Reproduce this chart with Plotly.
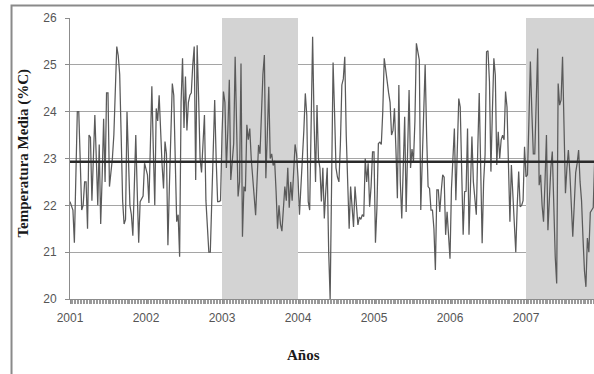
import plotly.graph_objects as go

# Weekly mean temperature (52 values per year), starting 2001
temp_2001 = [22.08, 22.0, 21.9, 21.2, 22.5, 24.0, 24.0, 23.0, 21.9, 22.0, 22.5, 22.5, 21.5,
             23.5, 23.45, 22.1, 23.0, 23.93, 23.0, 22.0, 23.3, 21.6, 22.6, 23.85, 22.5, 24.4,
             24.4, 22.4, 22.7, 23.0, 23.5, 24.5, 25.39, 25.2, 24.8, 23.5, 22.1, 21.6, 21.7,
             24.0, 23.0, 22.0, 21.8, 21.35, 22.4, 23.5, 22.3, 21.2, 22.08, 22.15, 22.2, 22.9]
temp_2002 = [22.8, 22.65, 22.05, 23.3, 24.54, 23.2, 22.0, 24.07, 23.8, 24.35, 23.5, 22.86, 22.36,
             23.36, 23.1, 21.15, 22.4, 23.5, 24.6, 24.35, 22.9, 21.65, 21.8, 20.9, 24.2, 25.14,
             23.65, 24.75, 23.6, 24.2, 24.35, 24.4, 25.0, 25.39, 22.54, 25.42, 24.3, 23.0, 22.7,
             23.3, 23.93, 22.1, 21.6, 21.0, 21.0, 22.1, 23.3, 24.25, 23.0, 22.08, 22.08, 22.1]
temp_2003 = [23.5, 24.43, 24.2, 22.8, 23.6, 24.68, 22.54, 23.0, 23.32, 25.17, 23.8, 22.19, 22.5,
             25.03, 21.33, 22.4, 22.3, 23.72, 23.4, 23.64, 23.0, 22.5, 22.2, 21.79, 22.6, 23.29,
             23.1, 24.0, 24.8, 25.21, 22.58, 23.5, 24.53, 23.0, 23.1, 22.85, 22.95, 22.3, 21.5,
             22.0, 21.6, 21.45, 22.0, 22.4, 22.1, 22.8, 21.95, 22.5, 22.1, 22.6, 23.3, 23.1]
temp_2004 = [22.6, 21.8, 22.3, 23.0, 23.6, 24.39, 23.93, 22.08, 21.9, 23.5, 25.6, 23.8, 22.5,
             24.14, 23.0, 22.8, 22.08, 22.8, 21.72, 22.3, 22.8, 21.0, 20.0, 22.5, 25.05, 24.0,
             22.8, 22.6, 22.5, 23.3, 24.57, 24.7, 25.17, 23.5, 22.3, 21.5, 22.4, 22.0, 21.54,
             22.4, 22.0, 21.58, 21.75, 21.7, 21.8, 21.76, 23.0, 22.5, 22.9, 21.97, 22.4, 23.14]
temp_2005 = [23.14, 21.2, 21.94, 23.32, 23.35, 23.3, 24.0, 25.14, 24.9, 24.6, 24.4, 24.2, 23.5,
             23.6, 24.07, 23.2, 22.15, 24.57, 22.5, 21.72, 22.8, 23.89, 21.86, 23.2, 24.46, 22.8,
             23.2, 22.93, 23.8, 25.46, 25.3, 25.1, 21.9, 22.8, 24.0, 25.0, 23.5, 22.4, 22.36,
             21.9, 21.9, 21.5, 20.62, 22.33, 22.33, 21.86, 22.3, 22.65, 22.6, 21.37, 21.86, 21.3]
temp_2006 = [20.86, 22.36, 23.0, 23.64, 22.11, 23.3, 24.28, 24.1, 22.8, 21.37, 22.29, 22.3, 23.64,
             21.37, 22.4, 23.47, 22.5, 22.2, 21.8, 23.2, 24.4, 22.8, 21.19, 22.5, 23.08, 25.28,
             25.3, 24.64, 22.72, 24.0, 25.14, 24.78, 22.86, 23.57, 23.0, 23.4, 23.5, 23.4, 24.43,
             24.1, 22.5, 21.65, 22.86, 22.2, 21.6, 21.0, 22.0, 22.72, 21.97, 22.0, 22.1, 23.25]
temp_2007 = [22.61, 22.65, 23.8, 25.07, 24.0, 23.1, 23.1, 24.5, 25.35, 22.43, 22.65, 22.0, 21.65,
             22.5, 23.5, 21.47, 22.3, 22.8, 23.15, 22.0, 20.9, 20.33, 24.6, 24.14, 24.25, 25.17,
             23.8, 22.26, 22.8, 23.18, 22.7, 22.0, 21.33, 22.0, 22.7, 22.9, 23.18, 22.5, 22.1,
             21.3, 20.6, 20.26, 21.3, 21.0, 21.85, 21.9, 21.95, 23.0]

years = [2001, 2002, 2003, 2004, 2005, 2006, 2007]
weeks_per_year = 52
mean_value = 22.93
shaded_periods = [(2003, 2004), (2007, 2008)]
y_ticks = [20, 21, 22, 23, 24, 25, 26]

temps = temp_2001 + temp_2002 + temp_2003 + temp_2004 + temp_2005 + temp_2006 + temp_2007
x_vals = [years[0] + i / weeks_per_year for i in range(len(temps))]

x_end = 2001 + 524 / 76

fig = go.Figure()

fig.add_trace(go.Scatter(
    x=x_vals, y=temps, mode="lines",
    line=dict(color="#5a5a5a", width=1.25),
    showlegend=False, hoverinfo="x+y"))

fig.add_trace(go.Scatter(
    x=[years[0], x_end + 0.2], y=[mean_value, mean_value], mode="lines",
    line=dict(color="#2a2a2a", width=2.6),
    showlegend=False, hoverinfo="y"))

for x0, x1 in shaded_periods:
    fig.add_shape(type="rect", xref="x", yref="y", x0=x0, x1=x1, y0=20, y1=26,
                  fillcolor="#d3d3d3", line=dict(width=0), layer="between")

# outer chart frame
fig.add_shape(type="rect", xref="paper", yref="paper",
              x0=-0.1116, x1=1.1, y0=-0.35, y1=1.0445,
              line=dict(color="#8a8a8a", width=2), fillcolor="rgba(0,0,0,0)", layer="above")

fig.add_annotation(text="<b>Temperatura Media (%C)</b>", textangle=-90,
                   xref="paper", yref="paper", x=-0.0878, y=0.521,
                   showarrow=False, xanchor="center", yanchor="middle",
                   font=dict(family="Liberation Serif", size=15, color="#1a1a1a"))
fig.add_annotation(text="<b>Años</b>",
                   xref="paper", yref="paper", x=0.4447, y=-0.199,
                   showarrow=False, xanchor="center", yanchor="middle",
                   font=dict(family="Liberation Serif", size=15, color="#1a1a1a"))

fig.update_layout(
    width=594, height=374,
    margin=dict(l=70, r=0, t=18, b=75),
    paper_bgcolor="white", plot_bgcolor="white",
    font=dict(family="Liberation Sans", size=12, color="#555555"),
    xaxis=dict(range=[2001, x_end], tick0=2001, dtick=1, tickformat="d",
               showgrid=False, zeroline=False,
               showline=True, linecolor="#8c8c8c", linewidth=1,
               ticks="outside", ticklen=4, tickcolor="#8c8c8c",
               minor=dict(dtick=1 / weeks_per_year, tick0=2001, ticks="outside",
                          ticklen=4, tickcolor="#9a9a9a", showgrid=False),
               tickfont=dict(size=12, color="#555555"), ticklabelstandoff=4),
    yaxis=dict(range=[20, 26], tickvals=y_ticks, showgrid=True,
               gridcolor="#a5a5a5", gridwidth=1, zeroline=False,
               showline=True, linecolor="#8c8c8c", linewidth=1,
               ticks="outside", ticklen=4, tickcolor="#8c8c8c",
               tickfont=dict(size=12, color="#555555"), ticklabelstandoff=6),
)

fig.write_html("out.html", config={"displayModeBar": False},
               post_script="document.body.style.margin='0';document.body.style.overflow='hidden';")
